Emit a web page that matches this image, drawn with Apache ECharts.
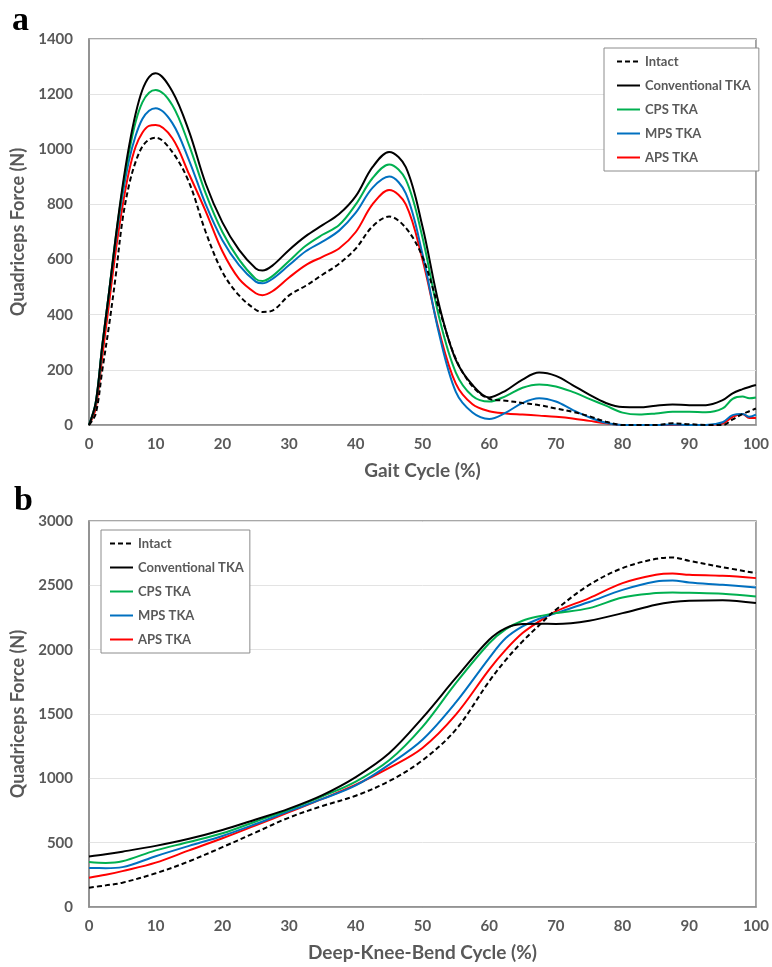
<!DOCTYPE html>
<html>
<head>
<meta charset="utf-8">
<script src="https://cdn.jsdelivr.net/npm/echarts@6/dist/echarts.min.js"></script>
<style>
  html, body { margin: 0; padding: 0; background: #fff; }
  #main { width: 772px; height: 967px; }
</style>
</head>
<body>
<div id="main"></div>
<script>
"use strict";
// panel a - gait cycle
var gaitX = [0,1,2,3,4,5,6,7,8,9,10,12.5,15,17.5,20,22.5,25,26,27.5,30,32.5,35,37.5,40,42.5,45,47.5,50,52.5,55,57.5,60,62.5,65,67.5,70,72.5,75,77.5,80,82.5,85,87.5,90,92.5,95,96.5,98,99,100];
var gaitIntact = [0,40,200,360,540,740,870,955,1010,1035,1042,990,880,700,555,470,418,410,415,470,505,545,585,640,720,756,715,610,420,240,140,95,88,80,72,60,48,32,12,0,0,0,6,3,0,0,20,40,50,60];
var gaitConv   = [0,80,290,480,680,860,1010,1130,1215,1262,1276,1210,1065,875,735,635,568,560,578,635,685,725,765,830,935,990,935,720,435,236,145,100,125,165,190,178,145,110,80,65,64,70,74,72,72,90,115,130,138,145];
var gaitCPS    = [0,80,290,480,680,850,990,1100,1170,1205,1215,1160,1015,840,700,600,530,522,540,595,650,690,725,800,895,945,890,680,390,190,105,85,105,135,147,140,120,95,70,45,38,42,48,48,46,60,95,103,97,100];
var gaitMPS    = [0,80,290,480,670,830,960,1050,1110,1140,1149,1095,960,800,670,580,520,514,530,580,630,665,705,770,860,901,840,620,330,120,45,22,45,80,97,85,55,28,8,0,0,0,2,0,0,10,36,40,30,38];
var gaitAPS    = [0,60,250,440,630,790,920,1010,1060,1085,1088,1040,910,775,630,530,478,471,485,535,580,610,640,700,800,852,800,600,340,150,75,50,42,38,34,30,24,15,6,0,0,0,0,0,0,5,30,40,25,25];

// panel b - deep knee bend
var dkbX = [0,2.5,5,10,15,20,25,30,35,40,45,50,55,60,62.5,65,67.5,70,75,80,85,87.5,90,95,100];
var dkbIntact = [150,168,189,262,355,465,580,695,785,865,978,1140,1379,1754,1920,2064,2190,2310,2504,2634,2706,2716,2690,2641,2595];
var dkbConv   = [393,410,430,475,530,598,680,765,870,1010,1195,1470,1780,2077,2168,2199,2202,2200,2225,2284,2349,2370,2380,2385,2362];
var dkbCPS    = [349,342,355,440,505,573,665,758,860,975,1140,1400,1740,2050,2160,2225,2260,2284,2323,2406,2440,2445,2442,2434,2414];
var dkbMPS    = [303,302,310,395,475,552,645,745,840,945,1107,1300,1590,1935,2090,2181,2240,2284,2370,2465,2530,2538,2522,2504,2483];
var dkbAPS    = [228,250,279,345,440,534,635,737,840,950,1081,1236,1495,1845,2000,2129,2220,2297,2401,2517,2582,2592,2582,2574,2556];

var names = ['Intact', 'Conventional TKA', 'CPS TKA', 'MPS TKA', 'APS TKA'];
var colors = ['#000000', '#000000', '#00b050', '#0070c0', '#ff0000'];

var FONT = 'Lato';
var GREY = '#595959';

function pairs(xs, ys) {
  return xs.map(function (x, i) { return [x, ys[i]]; });
}

function makeSeries(idx, xs, lists) {
  return lists.map(function (ys, i) {
    return {
      name: names[i],
      type: 'line',
      xAxisIndex: idx,
      yAxisIndex: idx,
      data: pairs(xs, ys),
      smooth: 0.35,
      symbol: 'none',
      color: colors[i],
      lineStyle: { color: colors[i], width: 2, type: i === 0 ? [5, 3] : 'solid' },
      z: 5 - i
    };
  });
}

function xAxisOpt(idx, title) {
  return {
    gridIndex: idx, type: 'value', min: 0, max: 100, interval: 10,
    name: title, nameLocation: 'middle', nameGap: 36,
    nameTextStyle: { fontFamily: FONT, fontWeight: 'bold', fontSize: 19, color: GREY },
    axisLine: { show: true, lineStyle: { color: '#8c8c8c', width: 1.5 } },
    axisTick: { show: false },
    splitLine: { show: false },
    axisLabel: { margin: 12, fontFamily: FONT, fontWeight: 'bold', fontSize: 15, color: GREY }
  };
}

function yAxisOpt(idx, max, step) {
  return {
    gridIndex: idx, type: 'value', min: 0, max: max, interval: step,
    name: 'Quadriceps Force (N)', nameLocation: 'middle', nameGap: 55,
    nameTextStyle: { fontFamily: FONT, fontWeight: 'bold', fontSize: 18, color: GREY },
    axisLine: { show: true, lineStyle: { color: '#8c8c8c', width: 1.5 } },
    axisTick: { show: false },
    splitLine: { show: true, lineStyle: { color: '#e3e3e3', width: 1 } },
    axisLabel: {
      margin: 16, fontFamily: FONT, fontWeight: 'bold', fontSize: 15, color: GREY,
      formatter: function (v) { return String(v); }
    }
  };
}

function legendOpt(left, top, pad) {
  return {
    data: names, orient: 'vertical', left: left, top: top,
    padding: pad, itemGap: 11, itemWidth: 23, itemHeight: 14,
    borderColor: '#8c8c8c', borderWidth: 1, backgroundColor: '#fff',
    selectedMode: false,
    itemStyle: { opacity: 0, borderWidth: 0 },
    textStyle: { fontFamily: FONT, fontWeight: 'bold', fontSize: 13, color: GREY }
  };
}

var chart = echarts.init(document.getElementById('main'), null, { renderer: 'canvas' });
chart.setOption({
  animation: false,
  backgroundColor: '#fff',
  grid: [
    { left: 89, top: 39, width: 668, height: 386, show: true, borderColor: '#8c8c8c', borderWidth: 1.5 },
    { left: 89, top: 521, width: 668, height: 386, show: true, borderColor: '#8c8c8c', borderWidth: 1.5 }
  ],
  xAxis: [xAxisOpt(0, 'Gait Cycle (%)'), xAxisOpt(1, 'Deep-Knee-Bend Cycle (%)')],
  yAxis: [yAxisOpt(0, 1400, 200), yAxisOpt(1, 3000, 500)],
  legend: [legendOpt(604, 48, [7, 8, 7, 12]), legendOpt(101, 530, [7, 6, 7, 8])],
  graphic: [
    { type: 'text', left: 12, top: 4, style: { text: 'a', font: 'bold 34px "Liberation Serif"', fill: '#000' } },
    { type: 'text', left: 14, top: 484, style: { text: 'b', font: 'bold 34px "Liberation Serif"', fill: '#000' } }
  ],
  series: makeSeries(0, gaitX, [gaitIntact, gaitConv, gaitCPS, gaitMPS, gaitAPS])
    .concat(makeSeries(1, dkbX, [dkbIntact, dkbConv, dkbCPS, dkbMPS, dkbAPS]))
});
</script>
</body>
</html>
